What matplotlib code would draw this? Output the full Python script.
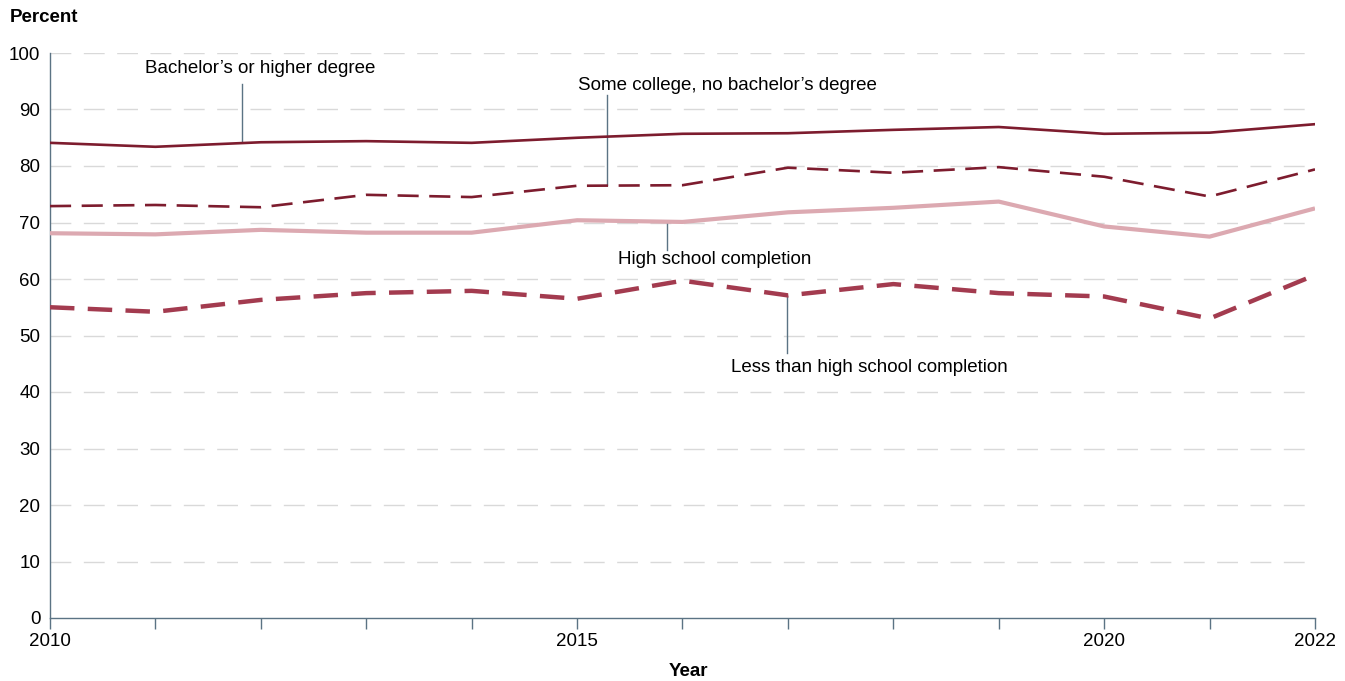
import matplotlib
matplotlib.use("Agg")
import matplotlib.pyplot as plt

plt.rcParams['font.family'] = ['Liberation Sans', 'DejaVu Sans']

years = list(range(2010, 2023))
bachelor = [84.1, 83.4, 84.2, 84.4, 84.1, 85.0, 85.7, 85.8, 86.4, 86.9, 85.7, 85.9, 87.4]
some_college = [72.9, 73.1, 72.7, 74.9, 74.5, 76.5, 76.6, 79.7, 78.8, 79.8, 78.1, 74.6, 79.4]
high_school = [68.1, 67.9, 68.7, 68.2, 68.2, 70.4, 70.1, 71.8, 72.6, 73.7, 69.3, 67.5, 72.5]
less_hs = [55.0, 54.2, 56.3, 57.5, 57.9, 56.5, 59.7, 57.1, 59.1, 57.5, 56.9, 53.0, 60.7]

y_ticks = list(range(0, 101, 10))
x_major = [2010, 2015, 2020, 2022]

dark = '#7d1c2e'
pink = '#dca9b1'
mid = '#a33b4f'
axis_col = '#5b7384'

fig = plt.figure(figsize=(13.45, 6.81), dpi=100)
ax = fig.add_axes([50/1345, 63/681, 1265/1345, 565/681])

for y in y_ticks[1:]:
    ax.axhline(y, color='#d9d9d9', lw=1.0, dashes=(15, 9), zorder=0)

ax.plot(years, bachelor, color=dark, lw=1.9, zorder=4)
ax.plot(years, some_college, color=dark, lw=1.9, dashes=(8, 4), zorder=4)
ax.plot(years, high_school, color=pink, lw=3.0, zorder=3, solid_capstyle='butt')
ax.plot(years, less_hs, color=mid, lw=3.2, dashes=(5.5, 3), zorder=3)

ax.set_xlim(2010, 2022)
ax.set_ylim(0, 100)
ax.set_yticks(y_ticks)
ax.set_xticks(years)
ax.set_xticklabels([str(y) if y in x_major else '' for y in years])
ax.tick_params(axis='x', length=8, width=1, color=axis_col, labelsize=13.5, pad=3)
ax.tick_params(axis='y', length=0, labelsize=13.5, pad=7)
for s in ['top', 'right']:
    ax.spines[s].set_visible(False)
for s in ['left', 'bottom']:
    ax.spines[s].set_color(axis_col)
    ax.spines[s].set_linewidth(1)

# annotations with leader lines
lead = dict(color=axis_col, lw=1)
fs = 13.5
ax.plot([2011.82, 2011.82], [84.4, 94.5], **lead, zorder=2)
ax.text(2011.99, 97.2, "Bachelor\u2019s or higher degree", ha='center', va='center', fontsize=fs)
ax.plot([2015.28, 2015.28], [76.6, 92.6], **lead, zorder=2)
ax.text(2016.43, 94.3, "Some college, no bachelor\u2019s degree", ha='center', va='center', fontsize=fs)
ax.plot([2015.85, 2015.85], [65.1, 70.0], **lead, zorder=2)
ax.text(2016.31, 63.5, "High school completion", ha='center', va='center', fontsize=fs)
ax.plot([2016.99, 2016.99], [46.9, 57.0], **lead, zorder=2)
ax.text(2017.775, 44.4, "Less than high school completion", ha='center', va='center', fontsize=fs)

fig.text(10/1345, 1 - 18/681, "Percent", ha='left', va='center', fontsize=13.5, fontweight='bold')
fig.text(688/1345, 1 - 671/681, "Year", ha='center', va='center', fontsize=13.5, fontweight='bold')

fig.savefig('out.png', dpi=100)
